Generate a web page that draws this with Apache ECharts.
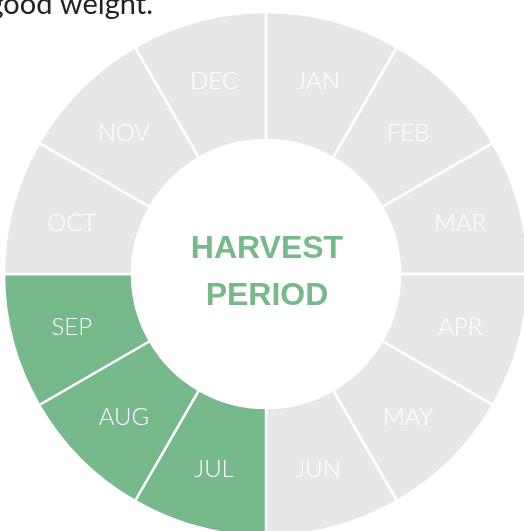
<!DOCTYPE html>
<html>
<head>
<meta charset="utf-8">
<script src="https://cdn.jsdelivr.net/npm/echarts@6/dist/echarts.min.js"></script>
<style>
  html, body { margin: 0; padding: 0; background: #fff; }
  #chart { width: 524px; height: 531px; }
</style>
</head>
<body>
<div id="chart"></div>
<script>
// months clockwise from 12 o'clock
var months = ['JAN', 'FEB', 'MAR', 'APR', 'MAY', 'JUN', 'JUL', 'AUG', 'SEP', 'OCT', 'NOV', 'DEC'];
var share = [1, 1, 1, 1, 1, 1, 1, 1, 1, 1, 1, 1];
var harvest = ['JUL', 'AUG', 'SEP'];

var grey = '#e6e7e8';
var green = '#76b98a';

var chart = echarts.init(document.getElementById('chart'));

var pieData = months.map(function (m, i) {
  return {
    name: m,
    value: share[i],
    itemStyle: { color: harvest.indexOf(m) >= 0 ? green : grey }
  };
});

chart.setOption({
  animation: false,
  graphic: [
    {
      type: 'text', right: 371, top: -10,
      style: { text: 'good weight.', font: '29px Lato', fill: '#222' }
    },
    {
      type: 'text', x: 267, y: 233,
      style: { text: 'HARVEST', font: 'bold 32px "Liberation Sans"', fill: green, align: 'center' }
    },
    {
      type: 'text', x: 267, y: 280,
      style: { text: 'PERIOD', font: 'bold 32px "Liberation Sans"', fill: green, align: 'center' }
    }
  ],
  series: [{
    type: 'pie',
    center: [266, 274],
    radius: [134, 262],
    startAngle: 90,
    clockwise: true,
    silent: true,
    itemStyle: { borderColor: '#fff', borderWidth: 2.5 },
    label: {
      show: true,
      position: 'inside',
      formatter: '{b}',
      color: '#fff',
      fontFamily: 'Lato',
      fontWeight: 300,
      fontSize: 24,
      offset: [0, 1]
    },
    labelLine: { show: false },
    data: pieData
  }]
});
</script>
</body>
</html>
